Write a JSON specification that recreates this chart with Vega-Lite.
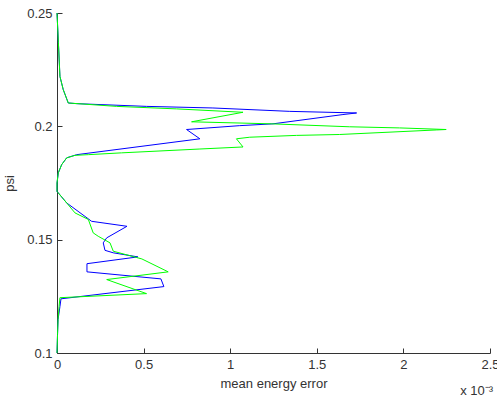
{
  "$schema": "https://vega.github.io/schema/vega-lite/v6.json",
  "width": 433,
  "height": 340,
  "autosize": {"type": "none"},
  "padding": {"left": 57, "top": 13, "right": 7, "bottom": 48},
  "background": "white",
  "config": {
    "view": {"stroke": null},
    "font": "Liberation Sans",
    "axis": {
      "domainColor": "#333333",
      "tickColor": "#333333",
      "labelColor": "#333333",
      "titleColor": "#333333",
      "labelFont": "Liberation Sans",
      "titleFont": "Liberation Sans",
      "labelFontSize": 13,
      "titleFontSize": 13,
      "titleFontWeight": "normal",
      "tickSize": -5,
      "labelPadding": 10,
      "grid": false,
      "labelFlush": false,
      "labelOverlap": false
    }
  },
  "title": {
    "text": "x 10⁻³",
    "orient": "bottom",
    "anchor": "end",
    "offset": -5,
    "dx": -6,
    "fontSize": 13,
    "fontWeight": "normal",
    "font": "Liberation Sans",
    "color": "#333333"
  },
  "data": {
    "values": [
      {"series": "blue", "psi": 0.25, "err": 0},
      {"series": "blue", "psi": 0.237, "err": 0.000008},
      {"series": "blue", "psi": 0.222, "err": 0.000017},
      {"series": "blue", "psi": 0.2162, "err": 0.000036},
      {"series": "blue", "psi": 0.2103, "err": 0.000065},
      {"series": "blue", "psi": 0.2100, "err": 0.000114},
      {"series": "blue", "psi": 0.2088, "err": 0.000517},
      {"series": "blue", "psi": 0.2081, "err": 0.000900},
      {"series": "blue", "psi": 0.2066, "err": 0.001344},
      {"series": "blue", "psi": 0.2059, "err": 0.001730},
      {"series": "blue", "psi": 0.2052, "err": 0.001651},
      {"series": "blue", "psi": 0.2011, "err": 0.001247},
      {"series": "blue", "psi": 0.2003, "err": 0.001055},
      {"series": "blue", "psi": 0.1986, "err": 0.000748},
      {"series": "blue", "psi": 0.1945, "err": 0.000825},
      {"series": "blue", "psi": 0.1875, "err": 0.000114},
      {"series": "blue", "psi": 0.1861, "err": 0.000056},
      {"series": "blue", "psi": 0.1831, "err": 0.000027},
      {"series": "blue", "psi": 0.1795, "err": 0.0000075},
      {"series": "blue", "psi": 0.1750, "err": 0},
      {"series": "blue", "psi": 0.1713, "err": 0},
      {"series": "blue", "psi": 0.1662, "err": 0.000056},
      {"series": "blue", "psi": 0.1581, "err": 0.000200},
      {"series": "blue", "psi": 0.1559, "err": 0.000404},
      {"series": "blue", "psi": 0.1508, "err": 0.000287},
      {"series": "blue", "psi": 0.1486, "err": 0.000267},
      {"series": "blue", "psi": 0.1453, "err": 0.000277},
      {"series": "blue", "psi": 0.1442, "err": 0.000325},
      {"series": "blue", "psi": 0.1424, "err": 0.000467},
      {"series": "blue", "psi": 0.1394, "err": 0.000173},
      {"series": "blue", "psi": 0.1358, "err": 0.000173},
      {"series": "blue", "psi": 0.1327, "err": 0.000600},
      {"series": "blue", "psi": 0.1293, "err": 0.000617},
      {"series": "blue", "psi": 0.1239, "err": 0.000023},
      {"series": "blue", "psi": 0.1205, "err": 0.000017},
      {"series": "blue", "psi": 0.1147, "err": 0.000006},
      {"series": "blue", "psi": 0.1081, "err": 0.000003},
      {"series": "blue", "psi": 0.1, "err": 0},
      {"series": "green", "psi": 0.25, "err": 0},
      {"series": "green", "psi": 0.237, "err": 0.000008},
      {"series": "green", "psi": 0.222, "err": 0.000017},
      {"series": "green", "psi": 0.2162, "err": 0.000036},
      {"series": "green", "psi": 0.2103, "err": 0.000065},
      {"series": "green", "psi": 0.2088, "err": 0.000344},
      {"series": "green", "psi": 0.2077, "err": 0.000690},
      {"series": "green", "psi": 0.2062, "err": 0.001074},
      {"series": "green", "psi": 0.2020, "err": 0.000777},
      {"series": "green", "psi": 0.2011, "err": 0.001238},
      {"series": "green", "psi": 0.1998, "err": 0.001690},
      {"series": "green", "psi": 0.1993, "err": 0.001978},
      {"series": "green", "psi": 0.1986, "err": 0.002247},
      {"series": "green", "psi": 0.1984, "err": 0.002190},
      {"series": "green", "psi": 0.1964, "err": 0.001632},
      {"series": "green", "psi": 0.1960, "err": 0.001382},
      {"series": "green", "psi": 0.1952, "err": 0.001113},
      {"series": "green", "psi": 0.1945, "err": 0.001036},
      {"series": "green", "psi": 0.1909, "err": 0.001074},
      {"series": "green", "psi": 0.1900, "err": 0.000825},
      {"series": "green", "psi": 0.1883, "err": 0.000373},
      {"series": "green", "psi": 0.1875, "err": 0.000181},
      {"series": "green", "psi": 0.1872, "err": 0.000104},
      {"series": "green", "psi": 0.1861, "err": 0.000056},
      {"series": "green", "psi": 0.1831, "err": 0.000027},
      {"series": "green", "psi": 0.1795, "err": 0.0000075},
      {"series": "green", "psi": 0.1750, "err": 0},
      {"series": "green", "psi": 0.1713, "err": 0},
      {"series": "green", "psi": 0.1662, "err": 0.000056},
      {"series": "green", "psi": 0.1618, "err": 0.000104},
      {"series": "green", "psi": 0.1589, "err": 0.000181},
      {"series": "green", "psi": 0.1530, "err": 0.000209},
      {"series": "green", "psi": 0.1515, "err": 0.000238},
      {"series": "green", "psi": 0.1486, "err": 0.000306},
      {"series": "green", "psi": 0.1449, "err": 0.000325},
      {"series": "green", "psi": 0.1415, "err": 0.000490},
      {"series": "green", "psi": 0.1358, "err": 0.000642},
      {"series": "green", "psi": 0.1324, "err": 0.000287},
      {"series": "green", "psi": 0.1262, "err": 0.000517},
      {"series": "green", "psi": 0.1244, "err": 0.000017},
      {"series": "green", "psi": 0.1205, "err": 0.000012},
      {"series": "green", "psi": 0.1147, "err": 0.000006},
      {"series": "green", "psi": 0.1081, "err": 0.000003},
      {"series": "green", "psi": 0.1, "err": 0}
    ]
  },
  "mark": {"type": "line", "strokeWidth": 1, "clip": false},
  "encoding": {
    "x": {
      "field": "err",
      "type": "quantitative",
      "scale": {"domain": [0, 0.0025], "nice": false, "zero": false},
      "axis": {
        "values": [0, 0.0005, 0.001, 0.0015, 0.002, 0.0025],
        "labelExpr": "format(datum.value * 1000, '~g')",
        "title": "mean energy error",
        "titlePadding": 6
      }
    },
    "y": {
      "field": "psi",
      "type": "quantitative",
      "scale": {"domain": [0.1, 0.25], "nice": false, "zero": false},
      "axis": {
        "values": [0.1, 0.15, 0.2, 0.25],
        "format": "~g",
        "title": "psi",
        "titlePadding": 10
      }
    },
    "color": {
      "field": "series",
      "type": "nominal",
      "scale": {"domain": ["blue", "green"], "range": ["#0000ff", "#00ff00"]},
      "legend": null
    },
    "order": {"field": "psi", "type": "quantitative", "sort": "descending"}
  }
}
